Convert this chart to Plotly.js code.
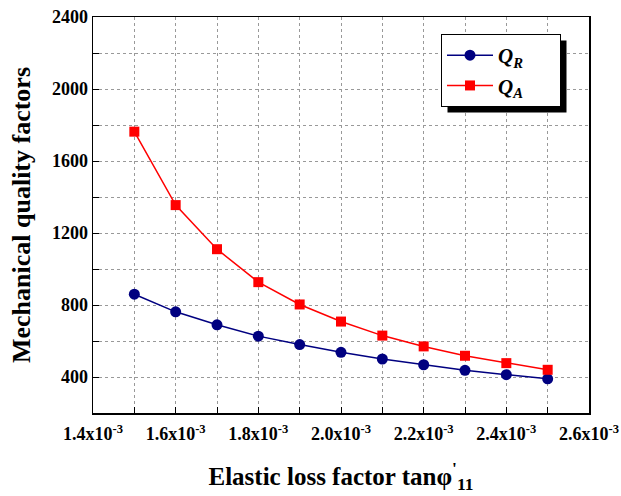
<!DOCTYPE html>
<html><head><meta charset="utf-8">
<script src="https://cdn.plot.ly/plotly-3.0.1.min.js"></script>
<style>body{margin:0;background:#fff}#c{width:621px;height:496px}</style>
</head><body><div id="c"></div>
<script>
const lossFactor = [1.5e-3,1.6e-3,1.7e-3,1.8e-3,1.9e-3,2.0e-3,2.1e-3,2.2e-3,2.3e-3,2.4e-3,2.5e-3];
const QR = [860,762,690,627,580,537,500,468,437,413,390];
const QA = [1763,1355,1110,927,803,708,630,570,518,477,440];
const xTickVals = [1.4e-3,1.6e-3,1.8e-3,2.0e-3,2.2e-3,2.4e-3,2.6e-3];
const xTickText = ['1.4x10<sup>-3</sup>','1.6x10<sup>-3</sup>','1.8x10<sup>-3</sup>','2.0x10<sup>-3</sup>','2.2x10<sup>-3</sup>','2.4x10<sup>-3</sup>','2.6x10<sup>-3</sup>'];
const yTickVals = [400,800,1200,1600,2000,2400];
const yTickText = ['400','800','1200','1600','2000','2400'];

const font = {family:'"Liberation Serif", "Times New Roman", serif', color:'#000'};
const pad = '&nbsp;&nbsp;&nbsp;&nbsp;&nbsp;&nbsp;';
const traces = [
  {x:lossFactor, y:QR, mode:'lines+markers', name:'<b><i>Q<sub>R</sub></i></b>'+pad,
   line:{color:'#000080', width:1.5}, marker:{symbol:'circle', size:11, color:'#000080'}},
  {x:lossFactor, y:QA, mode:'lines+markers', name:'<b><i>Q<sub>A</sub></i></b>'+pad,
   line:{color:'#ff0000', width:1.5}, marker:{symbol:'square', size:10, color:'#ff0000'}}
];
const W=621,H=496,L=93,R=32,T=17,B=83;
const pw=W-L-R, ph=H-T-B;
function px(x){return (x-L)/pw;}
function py(y){return (H-B-y)/ph;}
const bold = s => '<b>'+s+'</b>';
const tickFont = {family:'"Liberation Serif", "Times New Roman", serif', size:18, color:'#000', weight:'bold'};
const layout = {
  width:W, height:H,
  margin:{l:L,r:R,t:T,b:B},
  paper_bgcolor:'#fff', plot_bgcolor:'#fff',
  font:Object.assign({size:15}, font),
  showlegend:true,
  legend:{x:px(441), y:py(34), xanchor:'left', yanchor:'top', bgcolor:'#fff',
    bordercolor:'#000', borderwidth:1, font:Object.assign({size:21}, font),
    itemwidth:46, tracegroupgap:0},
  xaxis:{range:[1.4e-3,2.6e-3], tickvals:xTickVals, ticktext:xTickText.map(bold),
    ticks:'inside', ticklen:6, tickcolor:'#000', showline:true, linecolor:'#000', linewidth:1.5, mirror:true,
    showgrid:true, gridcolor:'#999', griddash:'dot', gridwidth:1, zeroline:false,
    tickfont:tickFont, ticklabelstandoff:4,
    minor:{tickvals:[1.5e-3,1.7e-3,1.9e-3,2.1e-3,2.3e-3,2.5e-3], ticks:'inside', ticklen:6, tickcolor:'#000',
      showgrid:true, gridcolor:'#999', griddash:'dot', gridwidth:1},
    title:{text:'<b>Elastic loss factor tanφ<sup>\'</sup><sub>11</sub></b>', font:Object.assign({size:25}, font), standoff:24}},
  yaxis:{range:[200,2400], tickvals:yTickVals, ticktext:yTickText.map(bold),
    ticks:'inside', ticklen:6, tickcolor:'#000', showline:true, linecolor:'#000', linewidth:1.5, mirror:true,
    showgrid:true, gridcolor:'#999', griddash:'dot', gridwidth:1, zeroline:false,
    tickfont:tickFont,
    minor:{tickvals:[600,1000,1400,1800,2200], ticks:'inside', ticklen:6, tickcolor:'#000',
      showgrid:true, gridcolor:'#999', griddash:'dot', gridwidth:1},
    title:{text:'<b>Mechanical quality factors</b>', font:Object.assign({size:26}, font), standoff:14}},
  shapes:[]
};
Plotly.newPlot('c', traces, layout, {displayModeBar:false, staticPlot:true}).then(gd => {
  const bg = gd.querySelector('.legend .bg');
  if (!bg) return;
  const cont = gd.getBoundingClientRect();
  const r = bg.getBoundingClientRect();
  const x0 = r.left - cont.left + 6, x1 = r.right - cont.left + 6;
  const y0 = r.top - cont.top + 6, y1 = r.bottom - cont.top + 6;
  return Plotly.relayout(gd, {shapes:[{type:'rect', xref:'paper', yref:'paper',
    x0:px(x0), x1:px(x1), y0:py(y1), y1:py(y0), fillcolor:'#000', line:{width:0}, layer:'above'}]});
});
</script></body></html>
